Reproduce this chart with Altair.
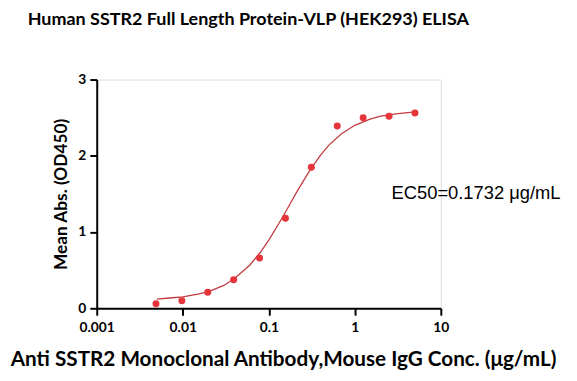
import altair as alt
import pandas as pd

# Measured points
conc = [5, 2.5, 1.25, 0.625, 0.3125, 0.15625, 0.078125, 0.0390625, 0.01953125, 0.009765625, 0.0048828125]
od = [2.56, 2.52, 2.50, 2.39, 1.85, 1.18, 0.66, 0.375, 0.21, 0.10, 0.06]

# Fitted curve
curve_x = [0.005, 0.007, 0.01, 0.015, 0.02, 0.03, 0.04, 0.06, 0.08, 0.1, 0.13, 0.17,
           0.22, 0.3, 0.4, 0.5, 0.7, 1, 1.5, 2, 3, 5]
curve_y = [0.12, 0.135, 0.15, 0.185, 0.22, 0.30, 0.39, 0.565, 0.735, 0.895, 1.105, 1.335,
           1.56, 1.81, 2.01, 2.14, 2.29, 2.40, 2.48, 2.52, 2.55, 2.575]

x_ticks = [0.001, 0.01, 0.1, 1, 10]
y_ticks = [0, 1, 2, 3]

title_text = "Human SSTR2 Full Length Protein-VLP (HEK293) ELISA"
x_title = "Anti SSTR2 Monoclonal Antibody,Mouse IgG Conc. (μg/mL)"
y_title = "Mean Abs. (OD450)"
ec50_text = "EC50=0.1732 μg/mL"

pts = pd.DataFrame({"conc": conc, "od": od})
crv = pd.DataFrame({"conc": curve_x, "od": curve_y})

xscale = alt.Scale(type="log", domain=[0.001, 10], nice=False)
yscale = alt.Scale(domain=[0, 3], nice=False, zero=False)

xaxis = alt.Axis(values=x_ticks, title=x_title, grid=False, domainColor="black",
                 domainWidth=2, tickColor="black", tickWidth=2, tickSize=7,
                 labelFont="Lato", labelFontWeight="bold", labelFontSize=14,
                 labelColor="black", labelPadding=6, format="~g", labelFlush=False,
                 titleFont="Lato", titleFontWeight="bold", titleFontSize=21,
                 titleColor="black", titleX=189, titleY=58, titleBaseline="alphabetic")
yaxis = alt.Axis(values=y_ticks, title=y_title, grid=False, domainColor="black",
                 domainWidth=2, tickColor="black", tickWidth=2, tickSize=7,
                 labelFont="Lato", labelFontWeight="bold", labelFontSize=14,
                 labelColor="black", labelPadding=4, format="d", labelFlush=False,
                 titleFont="Lato", titleFontWeight="bold", titleFontSize=17.5,
                 titleColor="black", titleX=-36, titleY=116, titleBaseline="middle",
                 titleAngle=270)

line = alt.Chart(crv).mark_line(color="#C23B40", strokeWidth=1.3).encode(
    x=alt.X("conc:Q", scale=xscale, axis=xaxis),
    y=alt.Y("od:Q", scale=yscale, axis=yaxis),
)
dots = alt.Chart(pts).mark_circle(color="#E5343A", opacity=1, size=50).encode(
    x=alt.X("conc:Q", scale=xscale),
    y=alt.Y("od:Q", scale=yscale),
)

lab = pd.DataFrame({"t": [ec50_text]})
ec = alt.Chart(lab).mark_text(font="Liberation Sans", fontSize=18.6, align="left",
                              baseline="alphabetic", color="black").encode(
    x=alt.value(299), y=alt.value(121), text="t:N")

tt = pd.DataFrame({"t": [title_text]})
ttl = alt.Chart(tt).mark_text(font="Lato", fontWeight="bold", fontSize=18.2, align="left",
                              baseline="alphabetic", color="black").encode(
    x=alt.value(-70), y=alt.value(-55), text="t:N")

chart = alt.layer(line, dots, ec, ttl).properties(
    width=349, height=232,
    autosize=alt.AutoSizeParams(type="none"),
    padding={"left": 90, "top": 70, "right": 130, "bottom": 60},
).configure_view(stroke=None).configure(background="white")

chart.save("out.html", embed_options={"renderer": "svg", "actions": False})
